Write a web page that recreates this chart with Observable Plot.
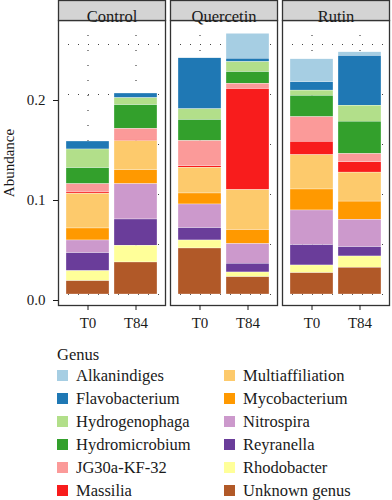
<!DOCTYPE html>
<html>
<head>
<meta charset="utf-8">
<script src="https://cdn.jsdelivr.net/npm/d3@7"></script>
<script src="https://cdn.jsdelivr.net/npm/@observablehq/plot@0.6"></script>
<style>
  body { margin: 0; background: white; font-family: "Liberation Serif", "Times New Roman", Times, "DejaVu Serif", serif; color: #1a1a1a; }
  svg text { font-family: "Liberation Serif", "Times New Roman", Times, "DejaVu Serif", serif; }
  #legend { margin-left: 57px; margin-top: 7px; }
  #legend .title { font-size: 16.5px; height: 19px; line-height: 19px; }
  #legend .grid { display: grid; grid-template-columns: 167px 150px; grid-auto-flow: column; grid-template-rows: repeat(6, 23px); }
  #legend .item { display: flex; align-items: center; font-size: 16.5px; white-space: nowrap; }
  #legend .sw { width: 11px; height: 11px; margin-right: 8px; flex: none; }
</style>
</head>
<body>
<div id="chart"></div>
<div id="legend"></div>
<script>
const genera = ["Alkanindiges", "Flavobacterium", "Hydrogenophaga", "Hydromicrobium", "JG30a-KF-32", "Massilia",
  "Multiaffiliation", "Mycobacterium", "Nitrospira", "Reyranella", "Rhodobacter", "Unknown genus"];
const colors = ["#a6cee3", "#1f78b4", "#b2df8a", "#33a02c", "#fb9a99", "#f81c1c",
  "#fdca6c", "#ff9900", "#cc99cc", "#6a3d9a", "#ffff99", "#b15928"];
const treatments = ["Control", "Quercetin", "Rutin"];
const times = ["T0", "T84"];
const yTicks = [0, 0.1, 0.2];
const yGrid = [0, 0.05, 0.1, 0.15, 0.2, 0.25];

// values per genus, in the order of `genera`
const controlT0    = [0,      0.008,  0.0187, 0.016,  0.0083, 0.0013, 0.0347, 0.012,  0.0127, 0.018,  0.010,  0.0133];
const controlT84   = [0,      0.0047, 0.007,  0.0237, 0.011,  0.0013, 0.029,  0.014,  0.0353, 0.0263, 0.0167, 0.032];
const quercetinT0  = [0,      0.051,  0.0107, 0.021,  0.0253, 0.0015, 0.0257, 0.011,  0.0237, 0.0123, 0.008,  0.046];
const quercetinT84 = [0.025,  0.0033, 0.010,  0.0117, 0.0053, 0.101,  0.040,  0.014,  0.0197, 0.0087, 0.0047, 0.0173];
const rutinT0      = [0.023,  0.0083, 0.0053, 0.0213, 0.0247, 0.0133, 0.0343, 0.021,  0.0347, 0.0203, 0.0077, 0.0213];
const rutinT84     = [0.0037, 0.0497, 0.016,  0.0323, 0.0083, 0.0103, 0.029,  0.0183, 0.0273, 0.0093, 0.0113, 0.0267];

const bars = [
  ["Control", "T0", controlT0], ["Control", "T84", controlT84],
  ["Quercetin", "T0", quercetinT0], ["Quercetin", "T84", quercetinT84],
  ["Rutin", "T0", rutinT0], ["Rutin", "T84", rutinT84]
];
const data = [];
bars.forEach(([treatment, time, values]) =>
  values.forEach((v, i) => data.push({treatment, time, genus: genera[i], value: v})));

const W = 392, H = 338, mT = 20, mB = 33;
const panelH = H - mT - mB;
const gridStyle = {stroke: "#444", strokeOpacity: 1, strokeWidth: 1.2};
const serif = '"Liberation Serif", "Times New Roman", Times, "DejaVu Serif", serif';

const chart = Plot.plot({
  width: W, height: H,
  marginLeft: 57, marginRight: 1, marginTop: mT, marginBottom: mB,
  style: {fontFamily: serif, fontSize: "15px", color: "#1a1a1a", background: "white"},
  fx: {domain: treatments, paddingInner: 0.0442, paddingOuter: 0, axis: null},
  x: {domain: times, paddingInner: 0.1, paddingOuter: 0.15},
  y: {domain: [0, 0.274], insetBottom: 11},
  color: {domain: genera, range: colors},
  marks: [
    Plot.gridY(yGrid, {...gridStyle, strokeDasharray: "1,9"}),
    Plot.gridX(times, {...gridStyle, strokeDasharray: "1,14"}),
    Plot.barY(data, Plot.stackY({order: genera.slice().reverse()},
      {fx: "treatment", x: "time", y: "value", fill: "genus", stroke: "white", strokeWidth: 0.3})),
    Plot.frame({stroke: "#333", strokeWidth: 1.3}),
    Plot.frame({fill: "#d4d4d4", stroke: "#333", strokeWidth: 1.3, insetTop: -mT, insetBottom: panelH}),
    Plot.text(treatments, {fx: d => d, text: d => d, frameAnchor: "top", dy: -10, fontSize: 16.5, fill: "#1a1a1a"}),
    Plot.axisY(yTicks, {tickFormat: d3.format(".1f"), dy: 6, tickSize: 5, tickPadding: 8, fontSize: 15,
      label: "Abundance", labelAnchor: "center", labelArrow: "none", labelOffset: 55}),
    Plot.axisX({tickSize: 5, tickPadding: 7, label: null, fontSize: 15})
  ]
});
document.getElementById("chart").appendChild(chart);

const lg = document.getElementById("legend");
lg.innerHTML = `<div class="title">Genus</div><div class="grid">` +
  genera.map((g, i) => `<div class="item"><span class="sw" style="background:${colors[i]}"></span>${g}</div>`).join("") +
  `</div>`;
</script>
</body>
</html>
